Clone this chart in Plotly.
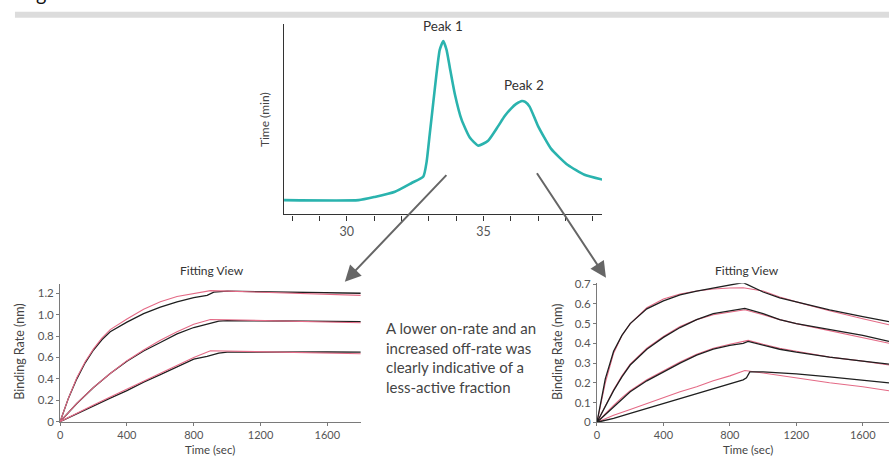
import plotly.graph_objects as go

W, H = 889, 464

def px(x):
    return x / W

def py(y):
    return 1 - y / H

# ---------------- Data ----------------
# Chromatogram (top)
chrom_x = [27.69, 30.43, 31.02, 31.76, 32.37, 32.80, 32.92, 33.04, 33.16, 33.28, 33.40, 33.53,
           33.65, 33.77, 33.95, 34.20, 34.50, 34.81, 35.17, 35.54, 35.78, 36.02, 36.20, 36.41,
           36.53, 36.69, 37.00, 37.48, 38.09, 38.70, 39.37]
chrom_y = [14.7, 14.7, 18.0, 23.3, 32.3, 39.0, 54.0, 84.0, 114.0, 144.0, 169.0, 178.0,
           169.0, 150.7, 124.0, 97.3, 79.0, 70.7, 75.7, 90.7, 101.0, 109.0, 113.5, 116.5,
           115.5, 110.7, 90.7, 67.3, 50.7, 40.7, 35.7]
chrom_ticks = [28, 29, 30, 31, 32, 33, 34, 35, 36, 37, 38, 39]
chrom_ticklabels = ["", "", "30", "", "", "", "", "35", "", "", "", ""]

# Left sensorgram (Peak 1)
L_t_a = [0, 50, 100, 150, 200, 250, 300, 400, 500, 600, 700, 800, 880, 920, 1000, 1200, 1400, 1600, 1800]
L1_black = [0, 0.22, 0.40, 0.55, 0.67, 0.765, 0.84, 0.93, 1.01, 1.07, 1.12, 1.16, 1.18, 1.21, 1.22, 1.215, 1.21, 1.205, 1.20]
L_t_f = [0, 50, 100, 150, 200, 250, 300, 400, 500, 600, 700, 800, 900, 1000, 1200, 1400, 1600, 1800]
L1_pink = [0, 0.22, 0.41, 0.56, 0.68, 0.78, 0.86, 0.96, 1.05, 1.12, 1.17, 1.20, 1.225, 1.22, 1.21, 1.20, 1.19, 1.18]

L_t_b = [0, 100, 200, 300, 400, 500, 600, 700, 800, 880, 950, 1000, 1200, 1400, 1600, 1800]
L2_black = [0, 0.17, 0.32, 0.45, 0.565, 0.66, 0.74, 0.82, 0.88, 0.91, 0.94, 0.945, 0.943, 0.940, 0.938, 0.935]
L3_black = [0, 0.075, 0.15, 0.22, 0.29, 0.37, 0.44, 0.515, 0.585, 0.61, 0.64, 0.65, 0.652, 0.652, 0.651, 0.65]
L_t_c = [0, 100, 200, 300, 400, 500, 600, 700, 800, 900, 1000, 1200, 1400, 1600, 1800]
L2_pink = [0, 0.17, 0.32, 0.45, 0.57, 0.67, 0.76, 0.84, 0.91, 0.955, 0.952, 0.945, 0.938, 0.931, 0.925]
L3_pink = [0, 0.08, 0.155, 0.23, 0.305, 0.38, 0.455, 0.53, 0.60, 0.663, 0.66, 0.653, 0.647, 0.641, 0.635]

# Right sensorgram (Peak 2)
R_t1 = [0, 50, 100, 150, 200, 300, 400, 500, 600, 700, 800, 880, 1000, 1100, 1200, 1400, 1600, 1758]
R1_black = [0, 0.22, 0.36, 0.44, 0.50, 0.575, 0.615, 0.645, 0.665, 0.68, 0.695, 0.708, 0.66, 0.63, 0.61, 0.57, 0.535, 0.51]
R1_pink = [0, 0.20, 0.35, 0.44, 0.50, 0.58, 0.625, 0.65, 0.665, 0.675, 0.68, 0.682, 0.665, 0.635, 0.61, 0.565, 0.525, 0.494]
R_t2 = [0, 50, 100, 150, 200, 300, 400, 500, 600, 700, 800, 890, 1000, 1100, 1200, 1400, 1600, 1758]
R2_black = [0, 0.08, 0.16, 0.23, 0.29, 0.37, 0.43, 0.48, 0.52, 0.55, 0.565, 0.577, 0.55, 0.52, 0.50, 0.47, 0.44, 0.41]
R2_pink = [0, 0.085, 0.165, 0.235, 0.295, 0.375, 0.435, 0.485, 0.52, 0.545, 0.56, 0.57, 0.545, 0.52, 0.50, 0.465, 0.43, 0.40]
R_t3 = [0, 50, 100, 150, 200, 300, 400, 500, 600, 700, 800, 880, 910, 1000, 1100, 1200, 1400, 1600, 1758]
R3_black = [0, 0.04, 0.08, 0.12, 0.155, 0.21, 0.255, 0.30, 0.34, 0.37, 0.39, 0.40, 0.41, 0.39, 0.37, 0.355, 0.33, 0.31, 0.295]
R3_pink = [0, 0.045, 0.085, 0.125, 0.16, 0.215, 0.26, 0.305, 0.345, 0.375, 0.395, 0.41, 0.415, 0.395, 0.375, 0.36, 0.33, 0.31, 0.29]
R_t4 = [0, 100, 200, 300, 400, 500, 600, 700, 800, 880, 900, 920, 1000, 1200, 1400, 1600, 1758]
R4_black = [0, 0.02, 0.045, 0.07, 0.095, 0.12, 0.145, 0.17, 0.195, 0.215, 0.225, 0.255, 0.255, 0.245, 0.23, 0.215, 0.20]
R_t4p = [0, 100, 200, 300, 400, 500, 600, 700, 800, 890, 1000, 1200, 1400, 1600, 1758]
R4_pink = [0, 0.035, 0.065, 0.095, 0.125, 0.155, 0.18, 0.21, 0.235, 0.262, 0.25, 0.225, 0.20, 0.18, 0.16]

L_yticks = [0, 0.2, 0.4, 0.6, 0.8, 1.0, 1.2]
L_yticklabels = ["0", "0.2", "0.4", "0.6", "0.8", "1.0", "1.2"]
R_yticks = [0, 0.1, 0.2, 0.3, 0.4, 0.5, 0.6, 0.7]
R_yticklabels = ["0", "0.1", "0.2", "0.3", "0.4", "0.5", "0.6", "0.7"]
xticks_sens = [0, 400, 800, 1200, 1600]

# ---------------- Styles ----------------
TEAL = "#2ab3ae"
BLACK = "#1f1f1f"
PINK = "#e46a86"
AXIS = "#7a7a7a"
TXT = "#444444"
FONT = "Lato"

fig = go.Figure()

fig.add_trace(go.Scatter(x=chrom_x, y=chrom_y, mode="lines",
                         line=dict(color=TEAL, width=2.6, shape="spline", smoothing=0.5),
                         xaxis="x", yaxis="y", hoverinfo="skip"))

for t, yb in [(L_t_a, L1_black), (L_t_b, L2_black), (L_t_b, L3_black)]:
    fig.add_trace(go.Scatter(x=t, y=yb, mode="lines", line=dict(color=BLACK, width=1.3), xaxis="x2", yaxis="y2"))
for t, yp in [(L_t_f, L1_pink), (L_t_c, L2_pink), (L_t_c, L3_pink)]:
    fig.add_trace(go.Scatter(x=t, y=yp, mode="lines", line=dict(color=PINK, width=1.1), xaxis="x2", yaxis="y2"))

for t, yp in [(R_t1, R1_pink), (R_t2, R2_pink), (R_t3, R3_pink), (R_t4p, R4_pink)]:
    fig.add_trace(go.Scatter(x=t, y=yp, mode="lines", line=dict(color=PINK, width=1.1), xaxis="x3", yaxis="y3"))
for t, yb in [(R_t1, R1_black), (R_t2, R2_black), (R_t3, R3_black), (R_t4, R4_black)]:
    fig.add_trace(go.Scatter(x=t, y=yb, mode="lines", line=dict(color=BLACK, width=1.3), xaxis="x3", yaxis="y3"))

tickfont = dict(family=FONT, size=11.5, color="#555555")
xtickfont = dict(family=FONT, size=11, color="#555555")

fig.update_layout(
    width=W, height=H, margin=dict(l=0, r=0, t=0, b=0),
    paper_bgcolor="white", plot_bgcolor="white", showlegend=False,
    font=dict(family=FONT, color=TXT),
    xaxis=dict(domain=[px(282), px(601)], range=[27.7, 39.34], tickmode="array", tickvals=chrom_ticks,
               ticktext=chrom_ticklabels, ticks="outside", ticklen=5, tickwidth=1.2, tickcolor="#333",
               showline=True, linecolor="#333", linewidth=1.2, showgrid=False, zeroline=False,
               tickfont=dict(family=FONT, size=12.5, color="#555"), anchor="y"),
    yaxis=dict(domain=[py(214), py(18)], range=[0, 196], showticklabels=False, ticks="",
               showline=True, linecolor="#333", linewidth=1.2, showgrid=False, zeroline=False, anchor="x"),
    xaxis2=dict(domain=[px(57.3), px(359)], range=[0, 1800], tickmode="array", tickvals=xticks_sens,
                ticks="outside", ticklen=3, tickcolor=AXIS, showline=True, linecolor=AXIS, linewidth=1,
                showgrid=False, zeroline=False, tickfont=xtickfont, anchor="y2"),
    yaxis2=dict(domain=[py(426.7), py(285)], range=[0, 1.29], tickmode="array", tickvals=L_yticks,
                ticktext=L_yticklabels, ticks="outside", ticklen=3, tickcolor=AXIS, showline=True,
                linecolor=AXIS, linewidth=1, showgrid=False, zeroline=False, tickfont=tickfont, anchor="x2"),
    xaxis3=dict(domain=[px(596), 1.0], range=[0, 1758], tickmode="array", tickvals=xticks_sens,
                ticks="outside", ticklen=3, tickcolor=AXIS, showline=True, linecolor=AXIS, linewidth=1,
                showgrid=False, zeroline=False, tickfont=xtickfont, anchor="y3"),
    yaxis3=dict(domain=[py(427.3), py(284.5)], range=[0, 0.705], tickmode="array", tickvals=R_yticks,
                ticktext=R_yticklabels, ticks="outside", ticklen=3, tickcolor=AXIS, showline=True,
                linecolor=AXIS, linewidth=1, showgrid=False, zeroline=False, tickfont=tickfont, anchor="x3"),
)

# gray band at top
fig.add_shape(type="rect", xref="paper", yref="paper", x0=px(12), x1=1.0, y0=py(12), y1=py(6),
              fillcolor="#dcdcdc", line=dict(width=0), layer="below")

ann = []
def text(x, y, s, size, color=TXT, angle=0, xanchor="center", yanchor="middle", align="center"):
    ann.append(dict(x=px(x), y=py(y), xref="paper", yref="paper", text=s, showarrow=False,
                    font=dict(family=FONT, size=size, color=color), textangle=angle,
                    xanchor=xanchor, yanchor=yanchor, align=align))

text(38, 1, "g", 20, color="#111", yanchor="bottom")
text(441, 21, "Peak 1", 13.5, color="#333")
text(522.5, 81, "Peak 2", 13.5, color="#333")
text(263, 117, "Time (min)", 12, color="#444", angle=-90)

text(210, 272, "Fitting View", 12, color="#333")
text(17, 355, "Binding Rate (nm)", 12.5, color="#444", angle=-90)
text(208, 455, "Time (sec)", 11.5, color="#444")

text(747, 272, "Fitting View", 12, color="#333")
text(557, 355, "Binding Rate (nm)", 12.5, color="#444", angle=-90)
text(748, 455, "Time (sec)", 11.5, color="#444")

text(382, 361, "A lower on-rate and an<br>increased off-rate was<br>clearly indicative of a<br>less-active fraction",
     15, color="#444", xanchor="left", align="left")

for tip, tail in [((343, 283), (446, 175)), ((605, 279), (535, 173))]:
    ann.append(dict(x=px(tip[0]), y=py(tip[1]), xref="paper", yref="paper", showarrow=True,
                    ax=tail[0] - tip[0], ay=tail[1] - tip[1], axref="pixel", ayref="pixel",
                    arrowhead=2, arrowsize=1.6, arrowwidth=2, arrowcolor="#666666", text="", standoff=0))

fig.update_layout(annotations=ann)
fig.write_html("out.html", config={"displayModeBar": False},
               post_script="document.body.style.margin='0';document.body.style.overflow='hidden';")
